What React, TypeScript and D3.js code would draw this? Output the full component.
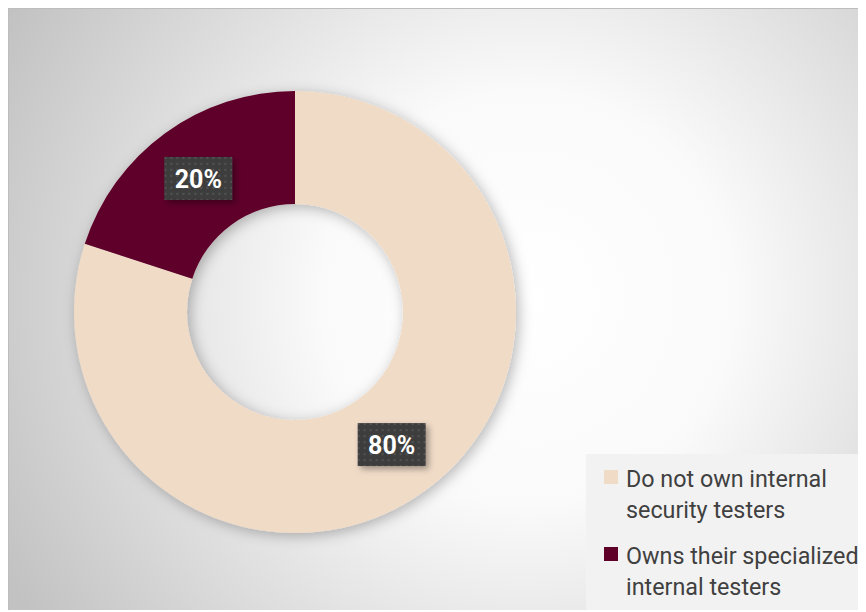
import React from "react";
import * as d3 from "d3";

const categories = ["Do not own internal security testers", "Owns their specialized internal testers"];
const legendLines = [["Do not own internal", "security testers"], ["Owns their specialized", "internal testers"]];
const values = [80, 20];
const labels = ["80%", "20%"];
const colors = ["#f0dbc7", "#5f0029"];

export default function App() {
  const W = 858, H = 602;
  const cx = 287, cy = 304, R = 221, r = 108;
  const pie = d3.pie<number>().sort(null).value((d) => d)(values);
  const arc = d3.arc<d3.PieArcDatum<number>>().innerRadius(r).outerRadius(R);
  const labelArc = d3.arc<d3.PieArcDatum<number>>().innerRadius((r + R) / 2).outerRadius((r + R) / 2);
  return (
    <svg width={W} height={H} style={{ display: "block", fontFamily: "Roboto, sans-serif" }}>
      <defs>
        <radialGradient id="bg" gradientUnits="userSpaceOnUse" cx={520} cy={290} r={590}>
          <stop offset="0" stopColor="#ffffff" />
          <stop offset="0.35" stopColor="#fafafa" />
          <stop offset="1" stopColor="#c2c2c2" />
        </radialGradient>
        <filter id="sh" x="-20%" y="-20%" width="140%" height="140%">
          <feDropShadow dx="3" dy="3" stdDeviation="7" floodColor="#000" floodOpacity="0.28" />
        </filter>
        <filter id="lsh" x="-30%" y="-30%" width="160%" height="160%">
          <feDropShadow dx="3" dy="3" stdDeviation="3" floodColor="#000" floodOpacity="0.35" />
        </filter>
        <pattern id="dots" width="6" height="6" patternUnits="userSpaceOnUse">
          <rect width="6" height="6" fill="#3e3e3e" />
          <rect x="2" y="2" width="2" height="2" fill="#525252" />
        </pattern>
      </defs>
      <rect x={0} y={0} width={W} height={H} fill="url(#bg)" />
      <line x1={0} y1={0.5} x2={W} y2={0.5} stroke="#bdbdbd" />
      <line x1={0.5} y1={0} x2={0.5} y2={H} stroke="#bdbdbd" />
      <g transform={`translate(${cx},${cy})`}>
        <g filter="url(#sh)">
          {pie.map((d, i) => (
            <path key={i} d={arc(d) || ""} fill={colors[i]} />
          ))}
        </g>
        {pie.map((d, i) => {
          const [lx, ly] = labelArc.centroid(d);
          return (
            <g key={"l" + i} transform={`translate(${lx},${ly})`}>
              <rect x={-34} y={-22} width={68} height={43} fill="url(#dots)" filter="url(#lsh)" />
              <text x={0} y={9} textAnchor="middle" fill="#ffffff" fontSize={25} fontWeight="bold">
                {labels[i]}
              </text>
            </g>
          );
        })}
      </g>
      <rect x={578} y={446} width={W - 578} height={H - 446} fill="#f2f2f2" />
      {categories.map((c, i) => (
        <g key={c} transform={`translate(596,${462 + i * 77})`}>
          <rect x={0} y={0} width={14} height={14} fill={colors[i]} />
          <text x={22} y={17} fontSize={23.3} fill="#404040">
            {legendLines[i].map((ln, j) => (
              <tspan key={j} x={22} dy={j === 0 ? 0 : 31}>{ln}</tspan>
            ))}
          </text>
        </g>
      ))}
    </svg>
  );
}
